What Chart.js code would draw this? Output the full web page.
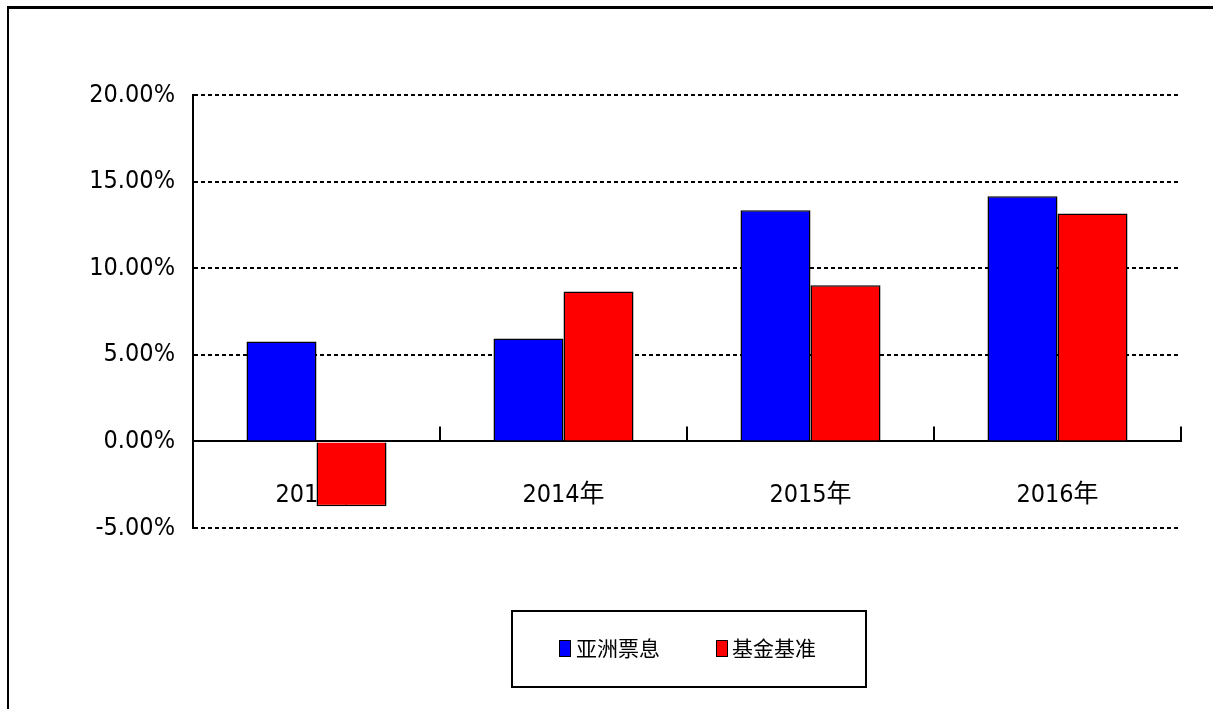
<!DOCTYPE html>
<html>
<head>
<meta charset="utf-8">
<script src="https://cdn.jsdelivr.net/npm/chart.js@4/dist/chart.umd.min.js"></script>
<style>
  html, body { margin: 0; padding: 0; background: #fff; }
  #wrap { width: 1213px; height: 709px; }
</style>
</head>
<body>
<div id="wrap"><canvas id="c" width="1213" height="709"></canvas></div>
<script>
const years = ['2013年', '2014年', '2015年', '2016年'];
const asiaCoupon = [5.77, 5.94, 13.35, 14.15];
const fundBench = [-3.75, 8.65, 9.02, 13.16];
const seriesNames = ['亚洲票息', '基金基准'];
const yTicks = [-5, 0, 5, 10, 15, 20];

const FONT = "'DejaVu Sans Condensed', 'DejaVu Sans', 'Noto Sans CJK SC', sans-serif";

// frame, inner category ticks and the boxed legend
const decor = {
  id: 'decor',
  beforeDraw(chart) {
    const ctx = chart.ctx;
    ctx.save();
    ctx.fillStyle = '#fff';
    ctx.fillRect(0, 0, chart.width, chart.height);
    ctx.fillStyle = '#000';
    ctx.fillRect(7, 6, chart.width - 7, 3);
    ctx.fillRect(7, 6, 2, chart.height - 6);
    ctx.restore();
  },
  afterDraw(chart) {
    const ctx = chart.ctx;
    const x = chart.scales.x;
    const y0 = chart.scales.y.getPixelForValue(0);
    ctx.save();
    ctx.strokeStyle = '#000';
    ctx.lineWidth = 2;
    const step = x.width / years.length;
    for (let i = 1; i <= years.length; i++) {
      const px = Math.round(x.left + i * step);
      ctx.beginPath();
      ctx.moveTo(px, y0);
      ctx.lineTo(px, y0 - 15);
      ctx.stroke();
    }

    // legend
    ctx.strokeRect(512, 611, 354, 76);
    ctx.font = "21px 'Noto Sans CJK SC', sans-serif";
    ctx.textBaseline = 'middle';
    const items = [[559, 576], [716, 732]];
    chart.data.datasets.forEach((ds, i) => {
      const [sx, tx] = items[i];
      ctx.fillStyle = ds.backgroundColor;
      ctx.fillRect(sx, 640, 11, 16);
      ctx.lineWidth = 1;
      ctx.strokeRect(sx + 0.5, 640.5, 11, 16);
      ctx.fillStyle = '#000';
      ctx.fillText(ds.label, tx, 648);
    });
    ctx.restore();
  }
};

new Chart(document.getElementById('c'), {
  type: 'bar',
  data: {
    labels: years,
    datasets: [
      { label: seriesNames[0], data: asiaCoupon, backgroundColor: '#0000ff', borderColor: '#000', borderWidth: 1.5 },
      { label: seriesNames[1], data: fundBench, backgroundColor: '#ff0000', borderColor: '#000', borderWidth: 1.5 }
    ]
  },
  plugins: [decor],
  options: {
    responsive: false,
    animation: false,
    devicePixelRatio: 1,
    layout: { padding: { left: 0, right: 32, top: 95, bottom: 181 } },
    datasets: { bar: { categoryPercentage: 0.567, barPercentage: 1 } },
    plugins: { legend: { display: false }, tooltip: { enabled: false } },
    scales: {
      x: {
        position: { y: 0 },
        grid: { display: false },
        border: { display: true, color: '#000', width: 2 },
        ticks: { color: '#000', padding: 31, font: { family: FONT, size: 25 } }
      },
      y: {
        min: -5,
        max: 20,
        afterFit(s) { s.width = 193; },
        afterBuildTicks(s) { s.ticks = yTicks.map(v => ({ value: v })); },
        grid: { color: '#000', lineWidth: 2, drawTicks: false },
        border: { display: true, color: '#000', width: 2, dash: [4, 3] },
        ticks: {
          color: '#000',
          padding: 18,
          font: { family: FONT, size: 25 },
          callback: v => v.toFixed(2) + '%'
        }
      }
    }
  }
});
</script>
</body>
</html>
